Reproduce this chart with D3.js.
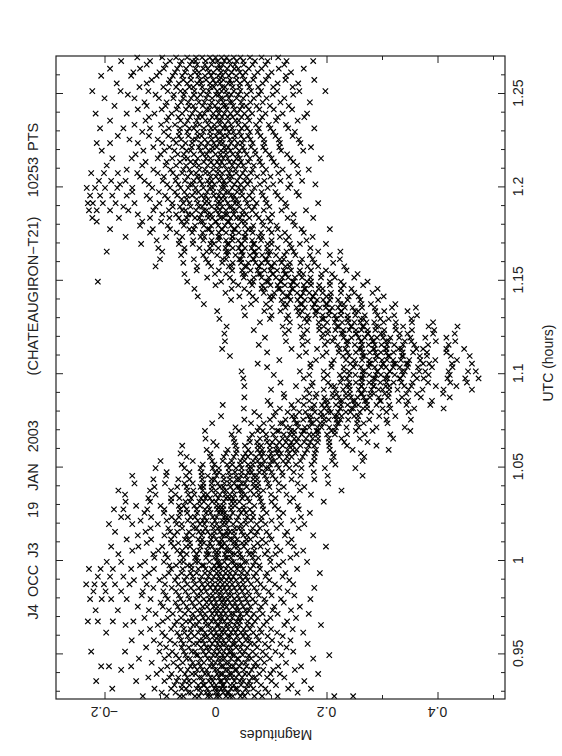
<!DOCTYPE html>
<html>
<head>
<meta charset="utf-8">
<script src="https://cdn.jsdelivr.net/npm/d3@7"></script>
<style>
  body { margin: 0; background: #fff; }
  text { font-family: "Liberation Sans", Arial, sans-serif; fill: #222; }
</style>
</head>
<body>
<div class="chart"></div>
<script>
// time of each sample row (UTC hours)
const utcRows = [
  0.9271,0.9290,0.9311,0.9330,0.9352,0.9371,0.9390,0.9412,0.9431,0.9450,
  0.9472,0.9491,0.9510,0.9532,0.9551,0.9570,0.9592,0.9611,0.9630,0.9652,
  0.9671,0.9690,0.9712,0.9731,0.9750,0.9772,0.9791,0.9810,0.9832,0.9851,
  0.9870,0.9892,0.9911,0.9930,0.9952,0.9971,0.9990,1.0012,1.0031,1.0050,
  1.0072,1.0091,1.0110,1.0132,1.0151,1.0170,1.0192,1.0211,1.0230,1.0252,
  1.0271,1.0290,1.0312,1.0331,1.0350,1.0372,1.0391,1.0410,1.0432,1.0451,
  1.0470,1.0492,1.0511,1.0530,1.0552,1.0571,1.0590,1.0612,1.0631,1.0650,
  1.0672,1.0691,1.0710,1.0732,1.0751,1.0770,1.0792,1.0811,1.0830,1.0852,
  1.0871,1.0890,1.0912,1.0931,1.0950,1.0972,1.0991,1.1010,1.1032,1.1051,
  1.1070,1.1092,1.1111,1.1130,1.1152,1.1171,1.1190,1.1212,1.1231,1.1250,
  1.1272,1.1291,1.1310,1.1332,1.1351,1.1370,1.1392,1.1411,1.1430,1.1452,
  1.1471,1.1490,1.1512,1.1531,1.1550,1.1572,1.1591,1.1610,1.1632,1.1651,
  1.1670,1.1692,1.1711,1.1730,1.1752,1.1771,1.1790,1.1812,1.1831,1.1850,
  1.1872,1.1891,1.1910,1.1932,1.1951,1.1970,1.1992,1.2011,1.2030,1.2052,
  1.2071,1.2090,1.2112,1.2131,1.2150,1.2172,1.2191,1.2210,1.2232,1.2251,
  1.2270,1.2292,1.2311,1.2330,1.2352,1.2371,1.2390,1.2412,1.2431,1.2450,
  1.2472,1.2491,1.2510,1.2532,1.2551,1.2570,1.2592,1.2611,1.2630,1.2652,
  1.2671,1.2690
];

// magnitudes measured in each row, in milli-magnitudes
const magRows = [
  [-131,-88,-64,-58,-37,-30,-14,-9,2,7,19,26,31,45,52,70,84,112,214,248],
  [-97,-72,-49,-44,-26,-17,-11,0,5,14,21,24,40,49,58,77,95,148],
  [-186,-110,-80,-61,-53,-34,-28,-15,-2,3,10,16,28,36,39,55,68,90,131,172],
  [-74,-60,-47,-31,-22,-20,-6,1,12,15,27,33,46,57,63,82,109,137],
  [-215,-143,-92,-70,-56,-48,-39,-23,-12,-5,8,11,20,34,44,50,61,74,101,160],
  [-121,-83,-67,-51,-29,-25,-9,-3,6,17,22,30,37,48,66,71,93,124],
  [-106,-79,-55,-42,-36,-19,-13,3,9,13,25,29,42,53,60,79,99,116,185],
  [-170,-98,-63,-50,-33,-24,-16,-1,4,18,23,35,38,51,65,86,104,143],
  [-206,-192,-152,-87,-68,-45,-38,-27,-10,-4,10,14,26,32,43,56,69,76,113,154],
  [-115,-76,-59,-41,-30,-21,-7,0,8,19,24,36,47,54,72,88,127],
  [-138,-92,-66,-52,-46,-27,-14,-8,5,11,16,28,39,41,58,64,81,98,176],
  [-84,-71,-54,-35,-32,-18,-4,3,13,21,30,34,49,60,73,91,119,205],
  [-224,-163,-101,-78,-57,-43,-37,-22,-12,-2,7,15,25,29,44,52,67,85,108,140],
  [-125,-89,-61,-48,-26,-16,-10,2,9,20,27,37,45,57,75,96,128],
  [-100,-73,-58,-39,-33,-20,-6,4,12,18,31,35,48,63,70,89,117,166],
  [-151,-111,-82,-62,-47,-29,-23,-11,-1,6,14,24,33,42,55,61,78,102,135],
  [-91,-65,-50,-38,-21,-15,-3,5,10,22,26,39,50,59,74,94,121],
  [-197,-134,-96,-69,-56,-44,-31,-19,-8,1,11,17,28,36,46,53,68,83,111,158],
  [-118,-80,-57,-45,-28,-24,-9,-2,8,15,23,32,40,51,62,80,100,139],
  [-162,-104,-74,-60,-40,-34,-17,-12,3,6,19,25,35,43,57,66,87,124,190],
  [-230,-212,-185,-148,-95,-70,-53,-46,-30,-18,-7,0,9,16,27,38,44,58,71,92,129],
  [-128,-86,-62,-43,-36,-22,-13,-4,7,12,21,30,41,47,64,76,99,145],
  [-108,-77,-55,-41,-27,-19,-6,2,10,18,28,33,45,56,69,85,112,168],
  [-216,-176,-120,-84,-64,-49,-32,-25,-10,-1,5,14,24,37,42,54,60,79,103,136],
  [-140,-95,-68,-52,-38,-23,-15,-3,4,13,20,31,39,50,63,82,106,152],
  [-99,-72,-58,-42,-29,-16,-8,1,11,17,26,35,46,58,72,90,123],
  [-226,-205,-188,-160,-117,-86,-63,-47,-35,-21,-11,-2,8,15,22,34,43,55,67,88,118,171],
  [-133,-90,-66,-49,-33,-27,-12,-5,6,12,23,29,40,52,61,78,101,142],
  [-220,-198,-170,-131,-94,-71,-54,-39,-26,-17,-4,3,10,19,27,38,48,59,74,96,130],
  [-112,-79,-60,-44,-30,-20,-9,0,9,16,25,34,44,53,70,87,115,178],
  [-233,-218,-201,-181,-155,-124,-91,-67,-51,-37,-24,-14,-5,4,13,21,30,41,50,64,81,107,140],
  [-147,-101,-73,-56,-40,-28,-16,-6,5,11,20,28,37,49,58,75,97,133],
  [-212,-190,-166,-128,-92,-69,-52,-41,-25,-13,-3,6,14,24,32,45,55,69,90,121],
  [-120,-84,-61,-45,-34,-19,-10,2,8,18,26,36,47,57,73,93,126,188],
  [-228,-207,-185,-152,-111,-80,-59,-43,-31,-18,-7,1,10,19,28,39,50,63,80,104,147],
  [-136,-83,-71,-50,-44,-24,-21,-2,6,9,22,35,41,46,68,79,114],
  [-196,-170,-127,-93,-64,-58,-36,-31,-11,3,7,16,29,33,52,56,71,99,122,165],
  [-110,-86,-58,-37,-33,-17,-2,3,18,21,28,44,49,67,77,98,135],
  [-175,-112,-90,-63,-52,-34,-16,-12,0,5,17,30,35,44,61,67,89,108,146],
  [-150,-103,-69,-60,-39,-29,-15,-1,5,19,23,27,42,58,70,94,117,158],
  [-188,-139,-96,-75,-53,-46,-27,-13,-6,10,12,21,34,40,51,69,81,110,141,199],
  [-124,-80,-67,-46,-27,-21,-10,6,10,16,32,37,48,55,76,91,131],
  [-160,-116,-80,-55,-49,-31,-24,-8,1,11,25,30,39,56,63,84,101,137],
  [-140,-92,-74,-52,-41,-25,-9,-3,12,16,22,34,50,57,72,97,125,176],
  [-181,-126,-82,-69,-48,-30,-23,-14,-2,8,20,26,33,47,64,75,92,129],
  [-117,-85,-60,-39,-34,-18,-4,4,9,22,35,42,48,67,80,110,150],
  [-192,-150,-104,-70,-61,-41,-28,-20,-6,2,13,19,32,46,55,74,90,118,160],
  [-135,-88,-72,-50,-32,-23,-16,-1,12,18,24,38,54,64,82,101,140],
  [-170,-158,-116,-79,-66,-45,-37,-20,-5,2,15,20,26,41,57,68,83,115,154],
  [-128,-93,-64,-51,-33,-17,-9,6,12,17,31,46,55,67,92,122,170],
  [-183,-166,-123,-92,-64,-52,-34,-19,-11,3,9,14,28,43,51,62,86,113,150],
  [-143,-99,-66,-57,-38,-28,-13,2,8,14,28,35,51,70,85,107,148],
  [-162,-118,-80,-54,-46,-29,-21,-6,1,15,29,35,43,61,82,101,134,195],
  [-121,-80,-65,-44,-26,-18,-10,5,19,25,32,48,58,80,108,140],
  [-163,-108,-72,-49,-38,-21,-15,0,8,18,26,34,47,53,69,78,100,128,172],
  [-175,-118,-80,-51,-40,-23,-7,0,14,19,32,44,48,63,77,86,114,152,227],
  [-110,-69,-52,-27,-22,-6,8,14,27,39,43,56,70,76,97,123,160],
  [-146,-91,-56,-41,-22,-7,4,16,25,34,47,53,68,77,95,114,148,203],
  [-112,-67,-47,-24,-7,-2,15,26,38,43,57,68,75,92,108,137,178],
  [-150,-89,-53,-25,-14,2,14,26,37,46,55,69,74,89,103,121,153,202,265],
  [-88,-47,-25,-1,6,24,35,47,59,65,79,88,101,120,141,177],
  [-108,-56,-27,-5,6,24,37,47,60,65,79,91,96,114,133,155,197,252],
  [-61,-23,-2,21,30,44,59,67,80,85,98,111,127,145,173,216],
  [-99,-41,-6,13,29,45,52,68,76,88,101,106,122,131,153,178,210,265],
  [-52,-10,15,33,50,58,73,83,96,102,115,129,137,157,178,213,268],
  [-63,-9,19,37,54,64,80,86,100,111,118,132,144,161,179,212,262],
  [-16,22,38,59,76,84,98,109,114,130,139,146,165,181,206,247,312],
  [-60,2,36,53,76,82,98,110,121,133,139,153,168,178,205,237,290],
  [-4,34,62,75,93,102,115,127,137,146,160,171,184,205,232,274],
  [-18,33,61,80,92,108,121,129,142,149,163,175,185,204,227,260,320],
  [29,66,91,104,123,134,141,155,169,176,184,201,215,237,269,315],
  [-19,42,76,85,111,114,136,142,158,160,182,185,209,215,253,283,351],
  [36,79,102,127,134,149,161,169,184,191,205,217,236,258,290,341],
  [-6,64,87,117,121,145,148,172,175,189,195,219,222,255,267,310],
  [52,98,126,142,158,171,182,196,204,218,225,239,256,277,308,352],
  [10,79,105,138,144,167,172,190,195,215,219,227,250,257,295,324],
  [70,108,130,151,162,179,190,203,208,221,235,243,260,280,308,348],
  [51,116,141,171,176,196,204,225,225,245,248,266,273,301,315,358,411],
  [13,99,137,159,178,192,201,217,226,238,251,257,273,290,313,344,387],
  [94,149,169,197,202,224,228,247,251,269,272,296,298,330,347,390],
  [52,124,160,180,196,212,222,235,244,256,267,278,294,311,336,370,422],
  [123,169,182,211,218,235,242,262,264,279,285,305,312,344,363,410],
  [100,164,195,216,230,242,258,268,281,294,301,313,328,348,373,411,462],
  [52,145,173,208,214,236,241,263,263,285,285,307,313,340,353,397,434],
  [117,175,203,225,241,253,264,277,284,297,308,321,335,355,383,423,453],
  [50,159,195,228,237,262,265,285,288,306,310,332,333,363,375,418,450,474],
  [105,169,202,224,241,252,266,277,289,298,309,323,338,357,384,422],
  [47,152,195,232,241,265,268,292,291,314,314,336,341,367,378,420,455,469],
  [93,171,209,231,249,262,276,287,299,307,320,332,346,365,390,427],
  [76,171,209,243,252,277,279,302,302,324,321,344,347,374,385,426,462],
  [115,181,213,235,250,264,277,288,300,309,320,334,349,369,396,435],
  [26,151,193,230,241,265,268,290,291,311,313,336,338,368,381,424,458],
  [93,163,200,222,238,253,265,278,288,298,308,321,337,356,381,416],
  [12,137,183,223,234,259,263,285,286,308,307,330,335,362,374,416,448],
  [78,157,197,220,237,251,264,276,287,299,309,322,338,358,383,420],
  [17,127,166,202,211,236,239,262,263,283,285,307,312,341,353,397,432],
  [89,156,192,214,231,245,258,269,281,291,302,315,331,351,378,416],
  [16,125,159,194,202,227,230,253,254,274,275,298,303,332,346,392,431],
  [69,132,165,187,203,216,230,241,253,263,274,288,304,325,354,394],
  [20,121,153,187,195,219,222,244,245,265,267,289,294,324,338,384,436],
  [80,134,165,186,201,215,228,239,250,261,272,286,303,325,354,392],
  [7,98,128,161,168,192,195,217,218,238,239,262,267,297,312,353],
  [53,101,131,151,166,180,193,204,215,226,238,252,269,292,322,363],
  [3,88,117,149,156,180,183,205,206,226,227,251,257,288,304,346],
  [51,98,126,146,161,175,188,199,210,221,233,247,264,287,318,361],
  [-21,64,91,122,129,153,156,178,179,199,201,225,231,263,280,324],
  [28,73,100,119,135,148,161,172,183,194,206,221,238,261,293],
  [-32,43,67,98,104,128,131,153,154,175,176,200,207,240,258,303],
  [18,61,87,106,121,134,147,158,169,180,193,208,226,250,283],
  [-38,29,52,83,89,113,116,138,139,160,162,186,193,226,245,292],
  [0,41,66,84,99,112,125,136,147,159,172,187,206,231,266],
  [-212,-51,10,32,62,68,92,95,117,118,139,141,165,172,206,226,274],
  [-15,26,51,69,83,96,109,120,131,143,156,171,190,215,250],
  [-56,-1,19,49,54,78,81,103,104,125,127,151,158,191,210,256],
  [-34,6,30,48,63,76,88,99,111,123,136,152,172,199,236],
  [-108,-33,-8,24,29,53,56,78,79,100,102,126,133,166,185,232],
  [-58,-13,12,31,46,59,72,83,94,106,119,134,153,178,212],
  [-100,-39,-17,13,19,43,46,68,69,90,92,116,123,156,175,224],
  [-62,-22,3,21,36,49,62,73,84,96,109,124,144,170,206],
  [-196,-96,-56,-16,-7,19,23,46,48,69,71,94,99,128,141,185,225],
  [-103,-56,-29,-10,5,18,31,42,53,65,78,93,112,137,171],
  [-134,-66,-41,-9,-3,21,24,46,47,68,70,94,101,134,152,199],
  [-106,-65,-40,-22,-7,6,19,30,41,53,66,82,101,127,164],
  [-162,-89,-60,-27,-20,5,8,30,31,52,54,78,84,116,132,175],
  [-118,-70,-42,-23,-7,6,19,31,42,54,67,82,101,125,159],
  [-190,-113,-82,-47,-39,-14,-11,11,12,33,35,59,65,96,112,155,206],
  [-136,-86,-57,-37,-21,-8,5,17,28,40,53,68,86,110,143],
  [-214,-132,-98,-61,-52,-27,-23,0,1,22,24,47,53,84,99,140],
  [-222,-174,-118,-83,-66,-52,-37,-29,-13,-6,9,14,27,38,44,61,78,95,130,176],
  [-140,-96,-71,-49,-43,-26,-14,-8,6,17,21,33,48,55,73,102,141],
  [-228,-214,-190,-157,-112,-84,-60,-54,-35,-21,-16,1,8,19,31,36,50,66,87,119,163],
  [-166,-108,-77,-64,-45,-30,-24,-7,3,12,25,29,43,60,70,97,128],
  [-230,-221,-203,-180,-146,-101,-78,-58,-47,-32,-19,-12,4,9,22,35,41,57,74,92,126,185],
  [-118,-86,-61,-52,-34,-20,-13,2,10,17,32,38,54,67,90,118],
  [-226,-208,-186,-160,-124,-91,-69,-51,-42,-25,-18,-3,6,15,28,33,48,61,85,112,150],
  [-150,-102,-73,-56,-37,-31,-15,-4,8,19,24,39,47,66,83,108,146],
  [-232,-217,-199,-177,-150,-114,-82,-63,-49,-36,-22,-10,-5,11,16,30,42,51,70,94,131],
  [-172,-120,-87,-67,-46,-41,-24,-11,-2,13,18,34,45,58,80,104,135,180],
  [-210,-188,-162,-128,-95,-72,-55,-39,-28,-14,-7,7,15,26,39,53,62,88,117,156],
  [-136,-93,-70,-50,-33,-27,-9,1,10,23,29,44,56,75,99,132],
  [-224,-201,-176,-141,-104,-77,-60,-44,-35,-18,-11,4,12,25,37,49,64,86,113,149],
  [-160,-112,-81,-58,-47,-29,-19,-4,5,20,27,36,53,67,91,121,168],
  [-196,-132,-90,-71,-53,-38,-30,-14,-3,8,16,30,41,50,69,84,110,147],
  [-126,-88,-64,-45,-36,-21,-8,3,11,25,33,46,59,80,105,140],
  [-186,-151,-104,-78,-56,-50,-32,-17,-9,6,14,22,38,44,62,79,101,135,190],
  [-144,-99,-68,-57,-39,-23,-16,0,9,19,31,40,56,72,97,129],
  [-205,-130,-92,-74,-52,-45,-27,-12,-6,10,18,27,43,52,71,90,118,158],
  [-112,-83,-60,-43,-30,-18,-5,2,16,23,36,49,64,86,115,172],
  [-214,-190,-140,-96,-71,-54,-42,-26,-14,-3,7,13,28,40,48,67,88,116,153],
  [-155,-104,-76,-62,-41,-35,-19,-7,5,12,26,34,51,63,87,114,150],
  [-176,-120,-85,-66,-49,-32,-25,-9,1,13,21,35,46,59,81,108,139],
  [-132,-93,-65,-51,-33,-22,-10,4,9,24,32,43,62,76,104,143],
  [-208,-166,-118,-84,-64,-47,-39,-21,-8,-1,14,20,30,47,57,78,99,131,178],
  [-146,-98,-73,-55,-36,-29,-13,-2,8,17,28,41,53,73,96,127],
  [-190,-126,-88,-63,-50,-34,-18,-11,5,10,23,36,42,61,80,109,148],
  [-120,-85,-67,-46,-31,-24,-6,2,12,22,31,47,58,84,112,160],
  [-216,-160,-110,-79,-60,-42,-28,-20,-4,6,16,27,39,52,66,90,121,165],
  [-140,-97,-70,-53,-37,-16,-11,3,8,20,34,44,60,79,105,138],
  [-182,-124,-90,-68,-48,-40,-23,-10,-1,15,19,32,48,55,74,98,132],
  [-128,-88,-62,-49,-30,-20,-7,5,14,26,30,46,63,85,117,170],
  [-200,-146,-102,-76,-58,-44,-33,-17,-6,9,13,24,38,50,69,92,124],
  [-158,-108,-75,-57,-39,-27,-14,1,6,21,28,41,56,78,103,140],
  [-222,-171,-121,-86,-63,-55,-38,-22,-12,3,11,19,33,45,64,82,111,151,198],
  [-137,-94,-71,-47,-40,-24,-9,-3,12,17,31,43,61,77,104,139],
  [-178,-124,-84,-66,-51,-33,-26,-10,0,8,23,29,44,58,85,112,149],
  [-115,-82,-58,-44,-28,-17,-4,7,14,26,38,52,68,91,126,178],
  [-206,-152,-106,-77,-60,-45,-31,-19,-8,5,12,24,37,49,70,95,127],
  [-148,-101,-73,-55,-37,-30,-12,-4,10,18,29,44,54,76,101,136],
  [-190,-136,-93,-69,-53,-36,-22,-14,3,9,21,34,41,60,83,114,159],
  [-124,-90,-64,-46,-33,-19,-7,6,13,27,35,51,67,90,124],
  [-170,-118,-82,-61,-42,-36,-18,-5,4,16,25,38,50,71,94,128,176],
  [-141,-96,-71,-51,-35,-24,-10,0,11,20,33,45,62,83,113]
];

// axis ticks and labels
const utcMajor = [0.95, 1, 1.05, 1.1, 1.15, 1.2, 1.25];
const utcLabels = ["0.95", "1", "1.05", "1.1", "1.15", "1.2", "1.25"];
const utcMinor = [0.93,0.94,0.96,0.97,0.98,0.99,1.01,1.02,1.03,1.04,1.06,1.07,1.08,1.09,
                  1.11,1.12,1.13,1.14,1.16,1.17,1.18,1.19,1.21,1.22,1.23,1.24,1.26];
const magMajor = [-0.2, 0, 0.2, 0.4];
const magLabels = ["\u22120.2", "0", "0.2", "0.4"];
const magMinor = [-0.1, 0.1, 0.3, 0.5];

// title pieces along the top of the (rotated) plot
const titleText = ["J4 OCC J3", "19 JAN 2003", "(CHATEAUGIRON\u2212T21)", "10253 PTS"];
const titleMid = [581, 469, 296, 160];
const titleGap = [3, 7, 0, 2];

const svgWidth = 562, svgHeight = 756;
const frame = {left: 56, right: 505, top: 56, bottom: 699};

const svg = d3.select(".chart").append("svg")
  .attr("width", svgWidth).attr("height", svgHeight);

// the plot is turned on its side: time runs upward, magnitude to the right
const y = d3.scaleLinear().domain([0.92559, 1.26981]).range([frame.bottom, frame.top]);
const x = d3.scaleLinear().domain([-0.2874, 0.5216]).range([frame.left, frame.right]);

// points
const points = utcRows.flatMap((t, i) => magRows[i].map(v => ({t: t, m: v / 1000})));
const cross = "M-2.7,-2.7L2.7,2.7M-2.7,2.7L2.7,-2.7";

svg.append("g")
  .selectAll("path")
  .data(points)
  .enter()
  .append("path")
  .attr("transform", d => `translate(${x(d.m)},${y(d.t)})`)
  .attr("d", cross)
  .attr("fill", "none")
  .attr("stroke", "#000")
  .attr("stroke-width", 1.15);

// ticks on all four sides, pointing inward
function tickAxis(axis, values, size, tx, ty) {
  const g = svg.append("g")
    .attr("transform", `translate(${tx},${ty})`)
    .call(axis.tickValues(values).tickSize(-size).tickFormat(""));
  g.select(".domain").remove();
  g.selectAll("line").attr("stroke", "#222").attr("stroke-width", 1);
}
tickAxis(d3.axisRight(y), utcMajor, 7, frame.right, 0);
tickAxis(d3.axisRight(y), utcMinor, 4, frame.right, 0);
tickAxis(d3.axisLeft(y), utcMajor, 7, frame.left, 0);
tickAxis(d3.axisLeft(y), utcMinor, 4, frame.left, 0);
tickAxis(d3.axisBottom(x), magMajor, 7, 0, frame.bottom);
tickAxis(d3.axisBottom(x), magMinor, 4, 0, frame.bottom);
tickAxis(d3.axisTop(x), magMajor, 7, 0, frame.top);
tickAxis(d3.axisTop(x), magMinor, 4, 0, frame.top);

// frame
svg.append("rect")
  .attr("x", frame.left).attr("y", frame.top)
  .attr("width", frame.right - frame.left).attr("height", frame.bottom - frame.top)
  .attr("fill", "none").attr("stroke", "#222").attr("stroke-width", 1.2);

// UTC tick labels, reading bottom to top
svg.append("g").selectAll("text")
  .data(utcMajor)
  .enter()
  .append("text")
  .attr("transform", (d) => `translate(523,${y(d)}) rotate(-90)`)
  .attr("text-anchor", "middle")
  .style("font-size", "14px")
  .text((d, i) => utcLabels[i]);

svg.append("text")
  .attr("transform", "translate(553,363) rotate(-90)")
  .attr("text-anchor", "middle")
  .style("font-size", "14px")
  .text("UTC (hours)");

// magnitude tick labels, upside down
svg.append("g").selectAll("text")
  .data(magMajor)
  .enter()
  .append("text")
  .attr("transform", (d) => `translate(${x(d)},707) rotate(180)`)
  .attr("text-anchor", "middle")
  .style("font-size", "14px")
  .text((d, i) => magLabels[i]);

svg.append("text")
  .attr("transform", "translate(276,730) rotate(180)")
  .attr("text-anchor", "middle")
  .style("font-size", "14px")
  .text("Magnitudes");

// title
svg.append("g").selectAll("text")
  .data(titleText)
  .enter()
  .append("text")
  .attr("transform", (d, i) => `translate(38,${titleMid[i]}) rotate(-90)`)
  .attr("text-anchor", "middle")
  .style("font-size", "14.5px")
  .style("word-spacing", (d, i) => titleGap[i] + "px")
  .text(d => d);
</script>
</body>
</html>
